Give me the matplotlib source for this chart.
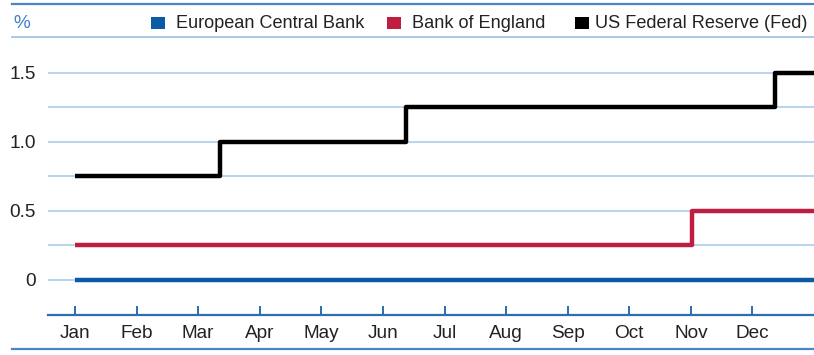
import matplotlib
matplotlib.use("Agg")
import matplotlib.pyplot as plt
from matplotlib.lines import Line2D
from matplotlib.patches import Rectangle

# Policy rates through the year (months from January, rate in %)
months = ["Jan", "Feb", "Mar", "Apr", "May", "Jun",
          "Jul", "Aug", "Sep", "Oct", "Nov", "Dec"]
ecb_x = [0, 12]
ecb_rate = [0.0, 0.0]
boe_x = [0, 10.02, 12]
boe_rate = [0.25, 0.5, 0.5]
fed_x = [0, 2.36, 5.38, 11.36, 12]
fed_rate = [0.75, 1.0, 1.25, 1.5, 1.5]
y_ticks = [0, 0.5, 1.0, 1.5]
y_tick_labels = ["0", "0.5", "1.0", "1.5"]
grid_levels = [0, 0.25, 0.5, 0.75, 1.0, 1.25, 1.5]

series_names = ["European Central Bank", "Bank of England", "US Federal Reserve (Fed)"]
ECB_BLUE = "#0a5aa5"
BOE_RED = "#c01e41"
FED_BLACK = "#000000"
GRID = "#bcd4ec"
AXIS_BLUE = "#2d6db2"
TEXT = "#222222"

plt.rcParams["font.family"] = ["Liberation Sans", "DejaVu Sans"]

W, H = 814, 355
fig = plt.figure(figsize=(W / 100, H / 100), dpi=100)

left_px, right_px = 47.5, 814
top_px, bottom_px = 60, 314.5
ax = fig.add_axes([left_px / W, 1 - bottom_px / H,
                   (right_px - left_px) / W, (bottom_px - top_px) / H])

for g in grid_levels:
    ax.axhline(g, color=GRID, lw=1.5, zorder=1)

ax.plot(ecb_x, ecb_rate, drawstyle="steps-post", color=ECB_BLUE, lw=3.2,
        solid_capstyle="butt", zorder=3)
ax.plot(boe_x, boe_rate, drawstyle="steps-post", color=BOE_RED, lw=3.2,
        solid_capstyle="butt", zorder=3)
ax.plot(fed_x, fed_rate, drawstyle="steps-post", color=FED_BLACK, lw=3.2,
        solid_capstyle="butt", zorder=3)

ax.set_xlim(-0.447, 12.0)
ax.set_ylim(-0.25, (280 - top_px) / 138.2)

for s in ["top", "right", "left"]:
    ax.spines[s].set_visible(False)
ax.spines["bottom"].set_color(AXIS_BLUE)
ax.spines["bottom"].set_linewidth(1.6)

ax.set_xticks(range(len(months)))
ax.set_xticklabels(months)
ax.tick_params(axis="x", direction="in", length=6.5, width=1.4, color=AXIS_BLUE,
               labelsize=13.7, labelcolor=TEXT, pad=7.5)
ax.set_yticks(y_ticks)
ax.set_yticklabels(y_tick_labels)
ax.tick_params(axis="y", length=0, labelsize=13.7, labelcolor=TEXT, pad=8.5)
ax.set_facecolor("none")

# Header rules and legend row
fig.add_artist(Line2D([12 / W, 1], [1 - 4 / H] * 2, color="#4a86c6", lw=1.6))
fig.add_artist(Line2D([12 / W, 1], [1 - 37.3 / H] * 2, color="#a9c8e8", lw=1.4))
fig.add_artist(Line2D([12 / W, 1], [1 - 349 / H] * 2, color="#4a86c6", lw=1.6))

fig.text(13 / W, 1 - 23 / H, "%", color="#3f82c9", fontsize=13.7, va="center", ha="left")

legend_items = [(151, 176, ECB_BLUE), (387, 412, BOE_RED), (575, 595, FED_BLACK)]
for (sq_x, tx_x, col), name in zip(legend_items, series_names):
    fig.add_artist(Rectangle((sq_x / W, 1 - 29.3 / H), 13.5 / W, 12.6 / H,
                             transform=fig.transFigure, color=col, lw=0))
    fig.text(tx_x / W, 1 - 23 / H, name, color=TEXT, fontsize=13.1,
             va="center", ha="left")

fig.savefig("out.png", dpi=100)
